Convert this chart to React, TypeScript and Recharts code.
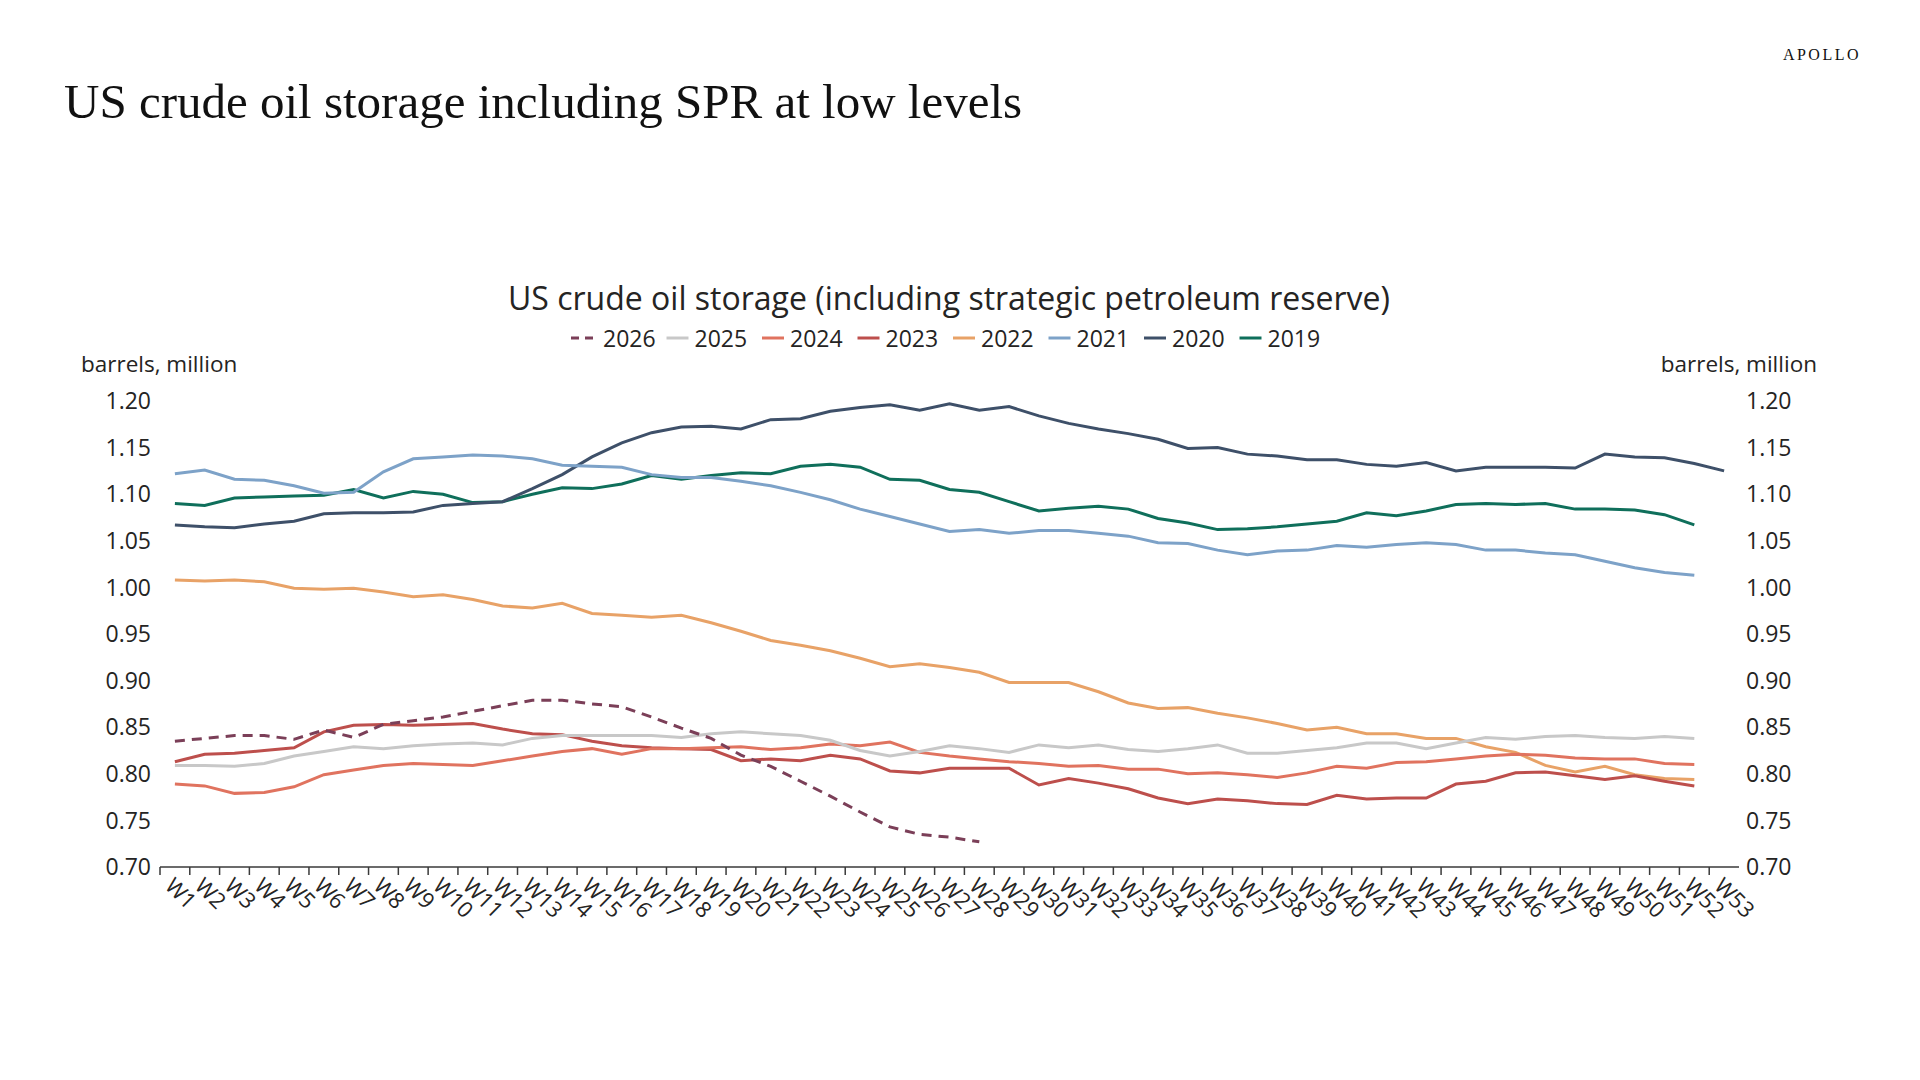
import { LineChart, Line, XAxis, YAxis } from 'recharts'

// Weekly US crude oil storage incl. SPR, billion barrels shown as "barrels, million" axis
const WEEKS = [
  'W1', 'W2', 'W3', 'W4', 'W5', 'W6', 'W7', 'W8', 'W9', 'W10',
  'W11', 'W12', 'W13', 'W14', 'W15', 'W16', 'W17', 'W18', 'W19', 'W20',
  'W21', 'W22', 'W23', 'W24', 'W25', 'W26', 'W27', 'W28', 'W29', 'W30',
  'W31', 'W32', 'W33', 'W34', 'W35', 'W36', 'W37', 'W38', 'W39', 'W40',
  'W41', 'W42', 'W43', 'W44', 'W45', 'W46', 'W47', 'W48', 'W49', 'W50',
  'W51', 'W52', 'W53',
]

const Y2026 = [
  0.835, 0.838, 0.841, 0.841, 0.837, 0.847, 0.839, 0.853, 0.857, 0.861,
  0.867, 0.873, 0.879, 0.879, 0.875, 0.872, 0.861, 0.849, 0.838, 0.820,
  0.808, 0.792, 0.776, 0.759, 0.743, 0.735, 0.732, 0.727,
]

const Y2025 = [
  0.809, 0.809, 0.808, 0.811, 0.819, 0.824, 0.829, 0.827, 0.830, 0.832,
  0.833, 0.831, 0.838, 0.841, 0.841, 0.841, 0.841, 0.839, 0.843, 0.845,
  0.843, 0.841, 0.836, 0.825, 0.819, 0.824, 0.830, 0.827, 0.823, 0.831,
  0.828, 0.831, 0.826, 0.824, 0.827, 0.831, 0.822, 0.822, 0.825, 0.828,
  0.833, 0.833, 0.827, 0.833, 0.839, 0.837, 0.840, 0.841, 0.839, 0.838,
  0.840, 0.838,
]

const Y2024 = [
  0.789, 0.787, 0.779, 0.780, 0.786, 0.799, 0.804, 0.809, 0.811, 0.810,
  0.809, 0.814, 0.819, 0.824, 0.827, 0.821, 0.827, 0.827, 0.828, 0.829,
  0.826, 0.828, 0.832, 0.830, 0.834, 0.823, 0.819, 0.816, 0.813, 0.811,
  0.808, 0.809, 0.805, 0.805, 0.800, 0.801, 0.799, 0.796, 0.801, 0.808,
  0.806, 0.812, 0.813, 0.816, 0.819, 0.821, 0.820, 0.817, 0.816, 0.816,
  0.811, 0.810,
]

const Y2023 = [
  0.813, 0.821, 0.822, 0.825, 0.828, 0.845, 0.852, 0.853, 0.852, 0.853,
  0.854, 0.848, 0.843, 0.842, 0.835, 0.830, 0.828, 0.827, 0.826, 0.814,
  0.816, 0.814, 0.820, 0.816, 0.803, 0.801, 0.806, 0.806, 0.806, 0.788,
  0.795, 0.790, 0.784, 0.774, 0.768, 0.773, 0.771, 0.768, 0.767, 0.777,
  0.773, 0.774, 0.774, 0.789, 0.792, 0.801, 0.802, 0.798, 0.794, 0.798,
  0.792, 0.787,
]

const Y2022 = [
  1.008, 1.007, 1.008, 1.006, 0.999, 0.998, 0.999, 0.995, 0.990, 0.992,
  0.987, 0.980, 0.978, 0.983, 0.972, 0.970, 0.968, 0.970, 0.962, 0.953,
  0.943, 0.938, 0.932, 0.924, 0.915, 0.918, 0.914, 0.909, 0.898, 0.898,
  0.898, 0.888, 0.876, 0.870, 0.871, 0.865, 0.860, 0.854, 0.847, 0.850,
  0.843, 0.843, 0.838, 0.838, 0.829, 0.823, 0.809, 0.802, 0.808, 0.799,
  0.795, 0.794,
]

const Y2021 = [
  1.122, 1.126, 1.116, 1.115, 1.109, 1.101, 1.102, 1.124, 1.138, 1.140,
  1.142, 1.141, 1.138, 1.131, 1.130, 1.129, 1.121, 1.118, 1.118, 1.114,
  1.109, 1.102, 1.094, 1.084, 1.076, 1.068, 1.060, 1.062, 1.058, 1.061,
  1.061, 1.058, 1.055, 1.048, 1.047, 1.040, 1.035, 1.039, 1.040, 1.045,
  1.043, 1.046, 1.048, 1.046, 1.040, 1.040, 1.037, 1.035, 1.028, 1.021,
  1.016, 1.013,
]

const Y2020 = [
  1.067, 1.065, 1.064, 1.068, 1.071, 1.079, 1.080, 1.080, 1.081, 1.088,
  1.090, 1.092, 1.106, 1.121, 1.140, 1.155, 1.166, 1.172, 1.173, 1.170,
  1.180, 1.181, 1.189, 1.193, 1.196, 1.190, 1.197, 1.190, 1.194, 1.184,
  1.176, 1.170, 1.165, 1.159, 1.149, 1.150, 1.143, 1.141, 1.137, 1.137,
  1.132, 1.130, 1.134, 1.125, 1.129, 1.129, 1.129, 1.128, 1.143, 1.140,
  1.139, 1.133, 1.125,
]

const Y2019 = [
  1.090, 1.088, 1.096, 1.097, 1.098, 1.099, 1.105, 1.096, 1.103, 1.100,
  1.091, 1.092, 1.100, 1.107, 1.106, 1.111, 1.120, 1.116, 1.120, 1.123,
  1.122, 1.130, 1.132, 1.129, 1.116, 1.115, 1.105, 1.102, 1.092, 1.082,
  1.085, 1.087, 1.084, 1.074, 1.069, 1.062, 1.063, 1.065, 1.068, 1.071,
  1.080, 1.077, 1.082, 1.089, 1.090, 1.089, 1.090, 1.084, 1.084, 1.083,
  1.078, 1.067,
]

const Y_TICKS = [0.7, 0.75, 0.8, 0.85, 0.9, 0.95, 1.0, 1.05, 1.1, 1.15, 1.2]
const Y_DOMAIN = [0.7, 1.2]

// both axes share one domain, so a series can sit on either of them
const SERIES = [
  { key: '2026', values: Y2026, color: '#7b3f58', dashed: true, axis: 'left' },
  { key: '2025', values: Y2025, color: '#c8c8c8', dashed: false, axis: 'left' },
  { key: '2024', values: Y2024, color: '#e0735f', dashed: false, axis: 'left' },
  { key: '2023', values: Y2023, color: '#bd4f4c', dashed: false, axis: 'left' },
  { key: '2022', values: Y2022, color: '#e8a267', dashed: false, axis: 'left' },
  { key: '2021', values: Y2021, color: '#7da2c8', dashed: false, axis: 'left' },
  { key: '2020', values: Y2020, color: '#3e5069', dashed: false, axis: 'left' },
  { key: '2019', values: Y2019, color: '#0f6f5b', dashed: false, axis: 'right' },
]

const rows = WEEKS.map((week, i) => {
  const row: Record<string, string | number | null> = { week }
  SERIES.forEach((s) => {
    row[s.key] = i < s.values.length ? s.values[i] : null
  })
  return row
})

const SANS = '"Open Sans", sans-serif'
const SERIF = '"Liberation Serif", serif'
const TEXT = '#252423'
const AXIS = '#3a3a3a'

// plot box: x 160..1739, y 401..867
const PLOT_LEFT = 160
const PLOT_RIGHT = 1739
const BAND = (PLOT_RIGHT - PLOT_LEFT) / WEEKS.length

const fmt = (v: number) => v.toFixed(2)

// week label rotated 45deg, tick mark sits on the band's left edge
function WeekTick(props: any) {
  const { x, y, payload } = props
  const edge = x - BAND / 2
  const ty = y + 9
  return (
    <g>
      <line x1={edge} x2={edge} y1={y} y2={y + 8} stroke={AXIS} strokeWidth={1.5} />
      <text
        x={x}
        y={ty}
        dy="0.72em"
        transform={`rotate(45 ${x} ${ty})`}
        textAnchor="start"
        fontSize={22}
        fontFamily={SANS}
        fill={TEXT}
      >
        {payload.value}
      </text>
    </g>
  )
}

function LegendRow() {
  const startX = 571
  const step = 95.5
  return (
    <g>
      {SERIES.map((s, i) => {
        const x0 = startX + i * step
        const symW = s.dashed ? 27 : 22
        const textX = s.dashed ? x0 + 32 : x0 + 28
        return (
          <g key={s.key}>
            <line
              x1={x0}
              x2={x0 + symW}
              y1={338}
              y2={338}
              stroke={s.color}
              strokeWidth={3}
              strokeDasharray={s.dashed ? '8 6' : undefined}
            />
            <text x={textX} y={347} fontSize={23} fontFamily={SANS} fill={TEXT}>
              {s.key}
            </text>
          </g>
        )
      })}
    </g>
  )
}

export default function App() {
  const yTick = { fontSize: 23, fill: TEXT, fontFamily: SANS }
  return (
    <div style={{ position: 'relative', width: 1920, height: 1080, background: '#fff' }}>
      <style>{'body{margin:0}'}</style>
      <LineChart
        width={1920}
        height={1080}
        data={rows}
        margin={{ top: 401, right: 81, bottom: 133, left: 60 }}
      >
        <XAxis
          dataKey="week"
          scale="band"
          interval={0}
          height={80}
          tickLine={false}
          tickSize={0}
          tickMargin={0}
          axisLine={{ stroke: AXIS, strokeWidth: 1.5 }}
          tick={(p: any) => <WeekTick {...p} />}
        />
        <YAxis
          yAxisId="left"
          domain={Y_DOMAIN}
          ticks={Y_TICKS}
          allowDataOverflow
          width={100}
          axisLine={false}
          tickLine={false}
          tickSize={0}
          tickMargin={9}
          tickFormatter={fmt}
          tick={yTick}
        />
        <YAxis
          yAxisId="right"
          orientation="right"
          domain={Y_DOMAIN}
          ticks={Y_TICKS}
          allowDataOverflow
          width={100}
          axisLine={false}
          tickLine={false}
          tickSize={0}
          tickMargin={7}
          tickFormatter={fmt}
          tick={yTick}
        />
        {[...SERIES].reverse().map((s) => (
          <Line
            key={s.key}
            yAxisId={s.axis}
            type="linear"
            dataKey={s.key}
            stroke={s.color}
            strokeWidth={3}
            strokeDasharray={s.dashed ? '10 7' : undefined}
            dot={false}
            activeDot={false}
            isAnimationActive={false}
          />
        ))}
      </LineChart>

      <svg
        width={1920}
        height={1080}
        style={{ position: 'absolute', left: 0, top: 0, pointerEvents: 'none' }}
      >
        <text x={1861} y={60} textAnchor="end" fontSize={16} letterSpacing={2.5} fontFamily={SERIF} fill="#111">
          APOLLO
        </text>
        <text x={64} y={118} fontSize={49} fontFamily={SERIF} fill="#111">
          US crude oil storage including SPR at low levels
        </text>
        <text x={949} y={310} textAnchor="middle" fontSize={32} fontFamily={SANS} fill={TEXT}>
          US crude oil storage (including strategic petroleum reserve)
        </text>
        <LegendRow />
        <text x={81} y={372} fontSize={22.5} fontFamily={SANS} fill={TEXT}>
          barrels, million
        </text>
        <text x={1817} y={372} textAnchor="end" fontSize={22.5} fontFamily={SANS} fill={TEXT}>
          barrels, million
        </text>
      </svg>
    </div>
  )
}
